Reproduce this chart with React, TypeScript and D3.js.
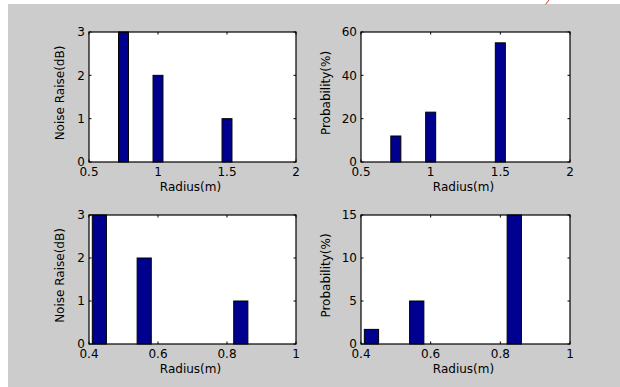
import React from "react";
import * as d3 from "d3";

// ---- data ----
const topRadius = [0.75, 1, 1.5];
const topNoise = [3, 2, 1];
const topProb = [12, 23, 55];
const bottomRadius = [0.43, 0.56, 0.84];
const bottomNoise = [3, 2, 1];
const bottomProb = [1.7, 5, 15];

const topXTicks = [0.5, 1, 1.5, 2];
const bottomXTicks = [0.4, 0.6, 0.8, 1];
const noiseTicks = [0, 1, 2, 3];
const topProbTicks = [0, 20, 40, 60];
const bottomProbTicks = [0, 5, 10, 15];

const xLabel = "Radius(m)";
const noiseLabel = "Noise Raise(dB)";
const probLabel = "Probability(%)";

const FONT = "'DejaVu Sans', Arial, sans-serif";
const BAR_FILL = "#00008F";

type PanelProps = {
  box: { x0: number; x1: number; y0: number; y1: number };
  xDomain: [number, number];
  yDomain: [number, number];
  xTicks: number[];
  yTicks: number[];
  xs: number[];
  ys: number[];
  barWidth: number; // in data units
  yLabel: string;
  yLabelX: number;
};

function Panel(p: PanelProps) {
  const { box } = p;
  const x = d3.scaleLinear().domain(p.xDomain).range([box.x0, box.x1]);
  const y = d3.scaleLinear().domain(p.yDomain).range([box.y1, box.y0]);
  const tl = 2.5;
  const fmt = (v: number) => String(v);
  const cx = (box.x0 + box.x1) / 2;
  const cy = (box.y0 + box.y1) / 2;
  return (
    <g>
      <rect x={box.x0} y={box.y0} width={box.x1 - box.x0} height={box.y1 - box.y0} fill="#fff" />
      {p.xs.map((v, i) => {
        const xa = x(v - p.barWidth / 2);
        const xb = x(v + p.barWidth / 2);
        return (
          <rect
            key={i}
            x={xa}
            y={y(p.ys[i])}
            width={xb - xa}
            height={y(0) - y(p.ys[i])}
            fill={BAR_FILL}
            stroke="#000"
            strokeWidth={1}
          />
        );
      })}
      <rect
        x={box.x0}
        y={box.y0}
        width={box.x1 - box.x0}
        height={box.y1 - box.y0}
        fill="none"
        stroke="#000"
        strokeWidth={1.2}
      />
      {p.xTicks.map((t) => (
        <g key={"xt" + t}>
          <line x1={x(t)} x2={x(t)} y1={box.y1} y2={box.y1 - tl} stroke="#000" />
          <line x1={x(t)} x2={x(t)} y1={box.y0} y2={box.y0 + tl} stroke="#000" />
          <text x={x(t)} y={box.y1 + 14} textAnchor="middle" fontSize={12} fontFamily={FONT} fill="#000">
            {fmt(t)}
          </text>
        </g>
      ))}
      {p.yTicks.map((t) => (
        <g key={"yt" + t}>
          <line x1={box.x0} x2={box.x0 + tl} y1={y(t)} y2={y(t)} stroke="#000" />
          <line x1={box.x1} x2={box.x1 - tl} y1={y(t)} y2={y(t)} stroke="#000" />
          <text
            x={box.x0 - 4}
            y={y(t)}
            dy="0.35em"
            textAnchor="end"
            fontSize={12}
            fontFamily={FONT}
            fill="#000"
          >
            {fmt(t)}
          </text>
        </g>
      ))}
      <text x={cx - 2} y={box.y1 + 29} textAnchor="middle" fontSize={12} fontFamily={FONT} fill="#000">
        {xLabel}
      </text>
      <text
        transform={`translate(${p.yLabelX},${cy - 4}) rotate(-90)`}
        dy="0.35em"
        textAnchor="middle"
        fontSize={12}
        fontFamily={FONT}
        fill="#000"
      >
        {p.yLabel}
      </text>
    </g>
  );
}

export default function App() {
  const tl = { x0: 89, x1: 296, y0: 32, y1: 162 };
  const tr = { x0: 361, x1: 570, y0: 32, y1: 162 };
  const bl = { x0: 89, x1: 296, y0: 215, y1: 344 };
  const br = { x0: 361, x1: 570, y0: 215, y1: 344 };
  return (
    <svg
      width={620}
      height={387}
      style={{ position: "absolute", left: 0, top: 0 }}
      xmlns="http://www.w3.org/2000/svg"
    >
      <rect x={0} y={0} width={620} height={387} fill="#fff" />
      <rect x={8} y={4} width={612} height={383} fill="#CCCCCC" />
      <line x1={549} y1={0} x2={545.5} y2={4.5} stroke="#e03030" strokeWidth={1} />
      <Panel
        box={tl}
        xDomain={[0.5, 2]}
        yDomain={[0, 3]}
        xTicks={topXTicks}
        yTicks={noiseTicks}
        xs={topRadius}
        ys={topNoise}
        barWidth={0.072}
        yLabel={noiseLabel}
        yLabelX={60}
      />
      <Panel
        box={tr}
        xDomain={[0.5, 2]}
        yDomain={[0, 60]}
        xTicks={topXTicks}
        yTicks={topProbTicks}
        xs={topRadius}
        ys={topProb}
        barWidth={0.072}
        yLabel={probLabel}
        yLabelX={326}
      />
      <Panel
        box={bl}
        xDomain={[0.4, 1]}
        yDomain={[0, 3]}
        xTicks={bottomXTicks}
        yTicks={noiseTicks}
        xs={bottomRadius}
        ys={bottomNoise}
        barWidth={0.041}
        yLabel={noiseLabel}
        yLabelX={60}
      />
      <Panel
        box={br}
        xDomain={[0.4, 1]}
        yDomain={[0, 15]}
        xTicks={bottomXTicks}
        yTicks={bottomProbTicks}
        xs={bottomRadius}
        ys={bottomProb}
        barWidth={0.041}
        yLabel={probLabel}
        yLabelX={326}
      />
    </svg>
  );
}
